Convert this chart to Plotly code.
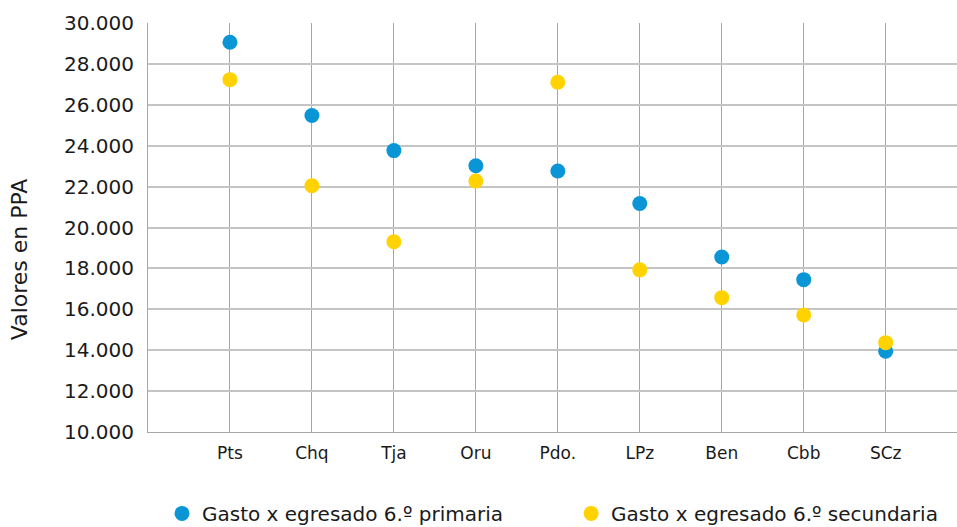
import plotly.graph_objects as go

# Departamentos (eje X) y gasto por egresado en PPA
departamentos = ["Pts", "Chq", "Tja", "Oru", "Pdo.", "LPz", "Ben", "Cbb", "SCz"]
gasto_primaria = [29060, 25480, 23760, 23020, 22760, 21170, 18560, 17450, 13950]
gasto_secundaria = [27230, 22040, 19300, 22270, 27100, 17930, 16570, 15720, 14370]

y_ticks = [10000, 12000, 14000, 16000, 18000, 20000, 22000, 24000, 26000, 28000, 30000]
y_tick_labels = ["10.000", "12.000", "14.000", "16.000", "18.000", "20.000",
                 "22.000", "24.000", "26.000", "28.000", "30.000"]

FONT = "DejaVu Sans"
TXT = "#1a1a1a"
x_pos = list(range(len(departamentos)))

fig = go.Figure()
fig.add_trace(go.Scatter(
    x=x_pos, y=gasto_primaria, mode="markers",
    name="Gasto x egresado 6.º primaria", legend="legend",
    marker=dict(color="#0a96d6", size=15, line=dict(width=0)),
))
fig.add_trace(go.Scatter(
    x=x_pos, y=gasto_secundaria, mode="markers",
    name="Gasto x egresado 6.º secundaria", legend="legend2",
    marker=dict(color="#ffd200", size=15, line=dict(width=0)),
))

legend_style = dict(
    orientation="h", xanchor="left", y=-0.199, yanchor="middle",
    font=dict(size=20, color=TXT), itemwidth=30, bgcolor="rgba(0,0,0,0)",
)

fig.update_layout(
    width=957, height=527,
    margin=dict(l=148, r=0, t=23, b=95, autoexpand=False),
    paper_bgcolor="white", plot_bgcolor="white",
    font=dict(family=FONT, color=TXT, size=17),
    showlegend=True,
    legend=dict(x=0.0173, **legend_style),
    legend2=dict(x=0.523, **legend_style),
    xaxis=dict(
        range=[-1, 8.87], tickmode="array", tickvals=x_pos, ticktext=departamentos,
        showgrid=True, gridcolor="#a6a6a6", gridwidth=1,
        showline=True, linecolor="#a6a6a6", linewidth=1,
        zeroline=False, ticks="", tickfont=dict(size=17, color=TXT),
        ticklabelstandoff=6,
    ),
    yaxis=dict(
        range=[10000, 30000], tickmode="array", tickvals=y_ticks, ticktext=y_tick_labels,
        showgrid=True, gridcolor="#c4c4c4", gridwidth=1.5,
        showline=True, linecolor="#a6a6a6", linewidth=1,
        zeroline=False, ticks="", tickfont=dict(size=20, color=TXT),
        ticklabelstandoff=9,
    ),
    annotations=[dict(
        text="Valores en PPA", textangle=-90, showarrow=False,
        xref="paper", yref="paper", x=-0.158, y=0.423,
        xanchor="center", yanchor="middle",
        font=dict(size=22, color=TXT, family=FONT),
    )],
)

fig.write_html("out.html")
